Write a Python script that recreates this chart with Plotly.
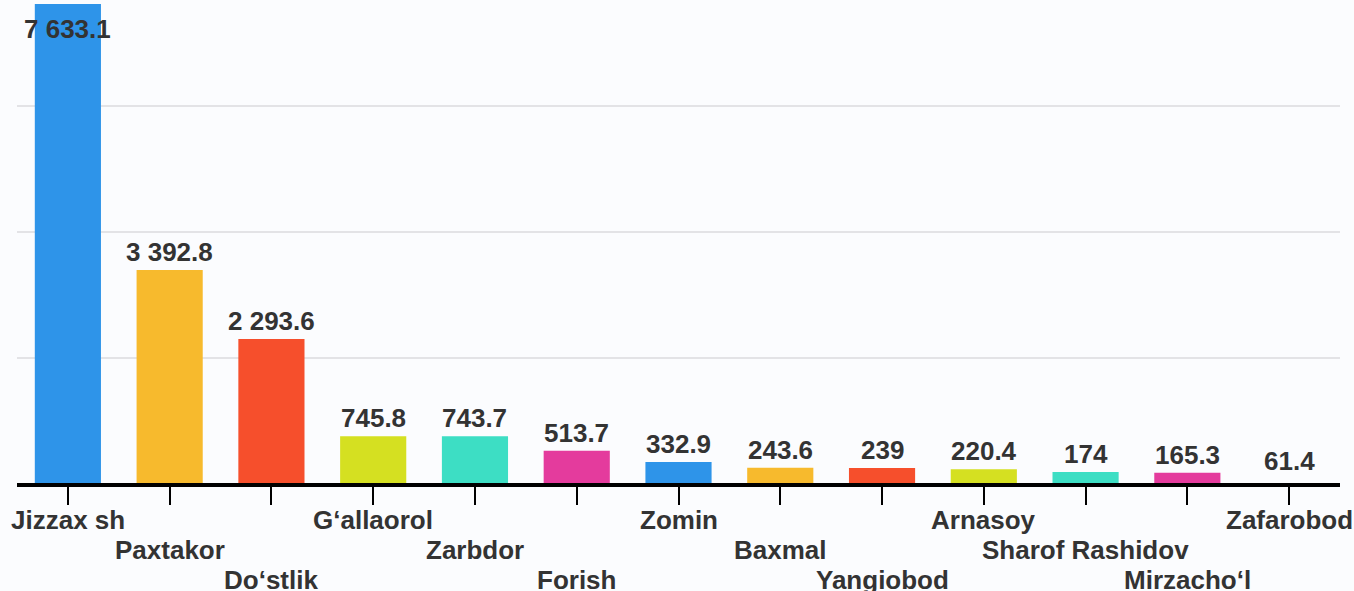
import plotly.graph_objects as go

categories = ["Jizzax sh", "Paxtakor", "Do‘stlik", "G‘allaorol", "Zarbdor", "Forish",
              "Zomin", "Baxmal", "Yangiobod", "Arnasoy", "Sharof Rashidov", "Mirzacho‘l", "Zafarobod"]
values = [7633.1, 3392.8, 2293.6, 745.8, 743.7, 513.7, 332.9, 243.6, 239, 220.4, 174, 165.3, 61.4]
palette = ["#2E94E9", "#F7BA2D", "#F64F2C", "#D5E021", "#3DDEC4", "#E43B9D"]

def fmt(v):
    s = f"{v:,.1f}" if v != int(v) else f"{int(v):,}"
    return s.replace(",", " ")

colors = [palette[i % len(palette)] for i in range(len(values))]
colors[-1] = "rgba(0,0,0,0)"  # last bar is not visible in the reference
FONT = "Liberation Sans, Arial, Helvetica, sans-serif"
TXT = "#333333"
FS = 26

fig = go.Figure(go.Bar(x=categories, y=values, marker=dict(color=colors, line=dict(width=0)),
                       hoverinfo="x+y"))

ann = []
for i, (c, v) in enumerate(zip(categories, values)):
    if i == 0:
        ann.append(dict(x=c, y=v, xref="x", yref="y", text=fmt(v), showarrow=False,
                        yanchor="top", yshift=-8,
                        font=dict(family=FONT, size=FS, color=TXT, weight="bold")))
    else:
        ann.append(dict(x=c, y=v, xref="x", yref="y", text=fmt(v), showarrow=False,
                        yanchor="bottom", yshift=1,
                        font=dict(family=FONT, size=FS, color=TXT, weight="bold")))
    row = i % 3
    ann.append(dict(x=c, y=0, xref="x", yref="paper", text=c, showarrow=False,
                    yanchor="top", yshift=-20 - 30 * row,
                    font=dict(family=FONT, size=FS, color=TXT, weight="bold")))

fig.update_layout(
    width=1354, height=591,
    margin=dict(l=17, r=14, t=0, b=108),
    paper_bgcolor="#fbfcfe", plot_bgcolor="#fbfcfe",
    bargap=0.35, showlegend=False,
    annotations=ann,
    xaxis=dict(range=[-0.5, len(categories) - 0.5], autorange=False,
               showline=True, linecolor="black", linewidth=4, ticks="outside",
               ticklen=18, tickwidth=2, tickcolor="black", showticklabels=False,
               showgrid=False, zeroline=False),
    yaxis=dict(range=[0, 7697], autorange=False, dtick=2000, showgrid=True, gridcolor="#e3e3e6",
               gridwidth=1.5, showticklabels=False, zeroline=False, showline=False),
)

fig.write_html("out.html", config={"displayModeBar": False},
               post_script="document.body.style.margin='0';document.body.style.overflow='hidden';"
                           "document.body.style.background='#fbfcfe';")
